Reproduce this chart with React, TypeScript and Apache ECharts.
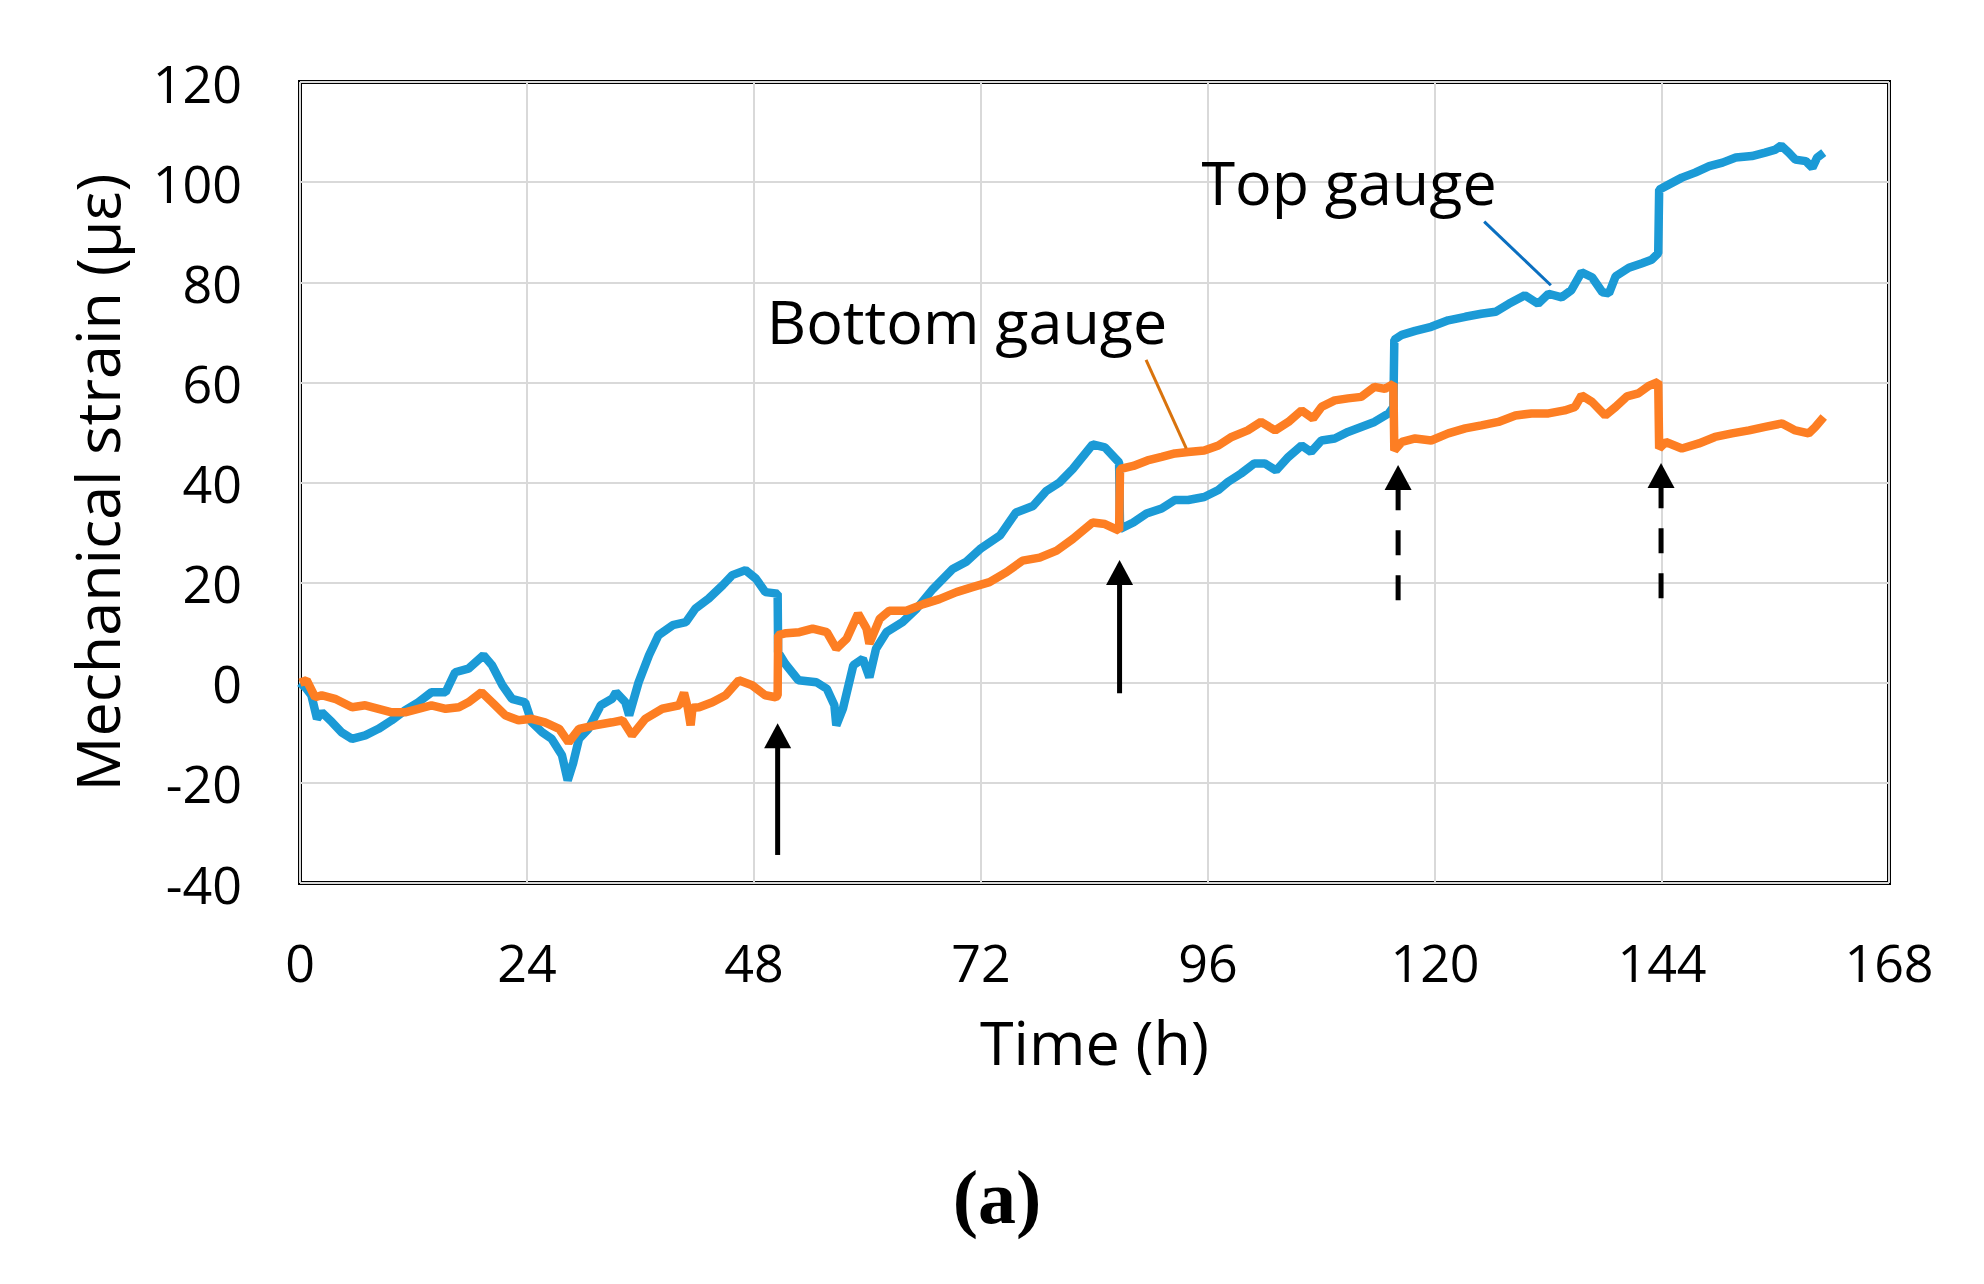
import React, { useEffect, useRef } from "react";
import * as echarts from "echarts";

// ---- Data ----
const topTime = [
  0, 0.6, 1.2, 1.8, 2.3, 3.4, 4.4, 5.5, 6.9, 8.3, 9.7, 11.1, 12.5, 13.9, 15.4, 16.4, 17.8, 19.4, 20.3, 21.4,
  22.4, 23.8, 24.5, 25.6, 26.6, 27.7, 28.3, 28.9, 29.5, 30.5, 31.8, 33.0, 33.4, 34.4, 34.8, 35.8, 36.9, 37.9,
  39.4, 40.8, 41.8, 43.2, 44.7, 45.7, 47.1, 48.2, 49.2, 50.5, 50.55, 51.3, 52.7, 54.6, 55.7, 56.5, 56.7, 57.4,
  58.5, 59.5, 60.2, 60.9, 62.0, 63.7, 65.2, 66.9, 69.0, 70.4, 71.9, 74.0, 75.7, 77.5, 78.9, 80.3, 81.7, 83.8,
  85.1, 86.6, 86.7, 88.1, 89.5, 91.1, 92.5, 93.9, 95.6, 97.1, 98.1, 99.5, 100.9, 102.0, 103.2, 104.5, 105.9,
  106.9, 108.0, 109.4, 110.8, 112.2, 113.6, 115.1, 115.6, 115.7, 116.5, 117.9, 119.6, 121.4, 123.2, 124.9,
  126.4, 127.8, 129.5, 130.9, 132.0, 133.4, 134.4, 135.5, 136.6, 137.7, 138.4, 139.1, 140.5, 141.9, 142.9,
  143.6, 143.7, 144.7, 146.1, 147.5, 149.0, 150.4, 151.8, 153.5, 154.9, 156.0, 156.6, 157.4, 158.1, 159.2,
  159.9, 160.4, 161.1,
];
const topStrain = [
  0, -1, -2.5, -7.2, -5.9, -7.9, -9.9, -11.2, -10.5, -9.2, -7.5, -5.5, -3.9, -1.9, -1.9, 2.1, 2.8, 5.5, 3.5, -0.5,
  -3.2, -3.9, -7.9, -9.9, -11.2, -14.5, -19.5, -15.9, -11.2, -9.2, -4.5, -3.2, -1.9, -3.9, -6.5, 0.1, 5.5, 9.5,
  11.5, 12.1, 14.8, 16.8, 19.5, 21.5, 22.5, 20.8, 18.1, 17.8, 6.1, 3.8, 0.5, 0.1, -1.2, -4.5, -8.5, -5.2,
  3.5, 4.8, 1.1, 6.8, 10.1, 12.1, 14.8, 18.7, 22.7, 24.1, 26.7, 29.4, 34.0, 35.3, 38.3, 40.0, 42.7, 47.6,
  47.0, 44.0, 30.7, 32.0, 33.8, 34.8, 36.5, 36.5, 37.1, 38.5, 40.1, 41.8, 43.8, 43.8, 42.4, 45.1, 47.4,
  46.1, 48.4, 48.8, 50.1, 51.1, 52.1, 53.8, 55.1, 68.5, 69.5, 70.3, 71.1, 72.4, 73.1, 73.7,
  74.1, 75.7, 77.4, 75.7, 77.7, 77.0, 78.4, 82.0, 81.0, 78.0, 77.8, 81.2, 82.9, 83.8, 84.5,
  85.8, 98.5, 99.5, 100.9, 101.9, 103.2, 103.9, 104.9, 105.2, 105.9, 106.5, 107.3, 105.9, 104.5, 104.2,
  102.9, 104.9, 105.9,
];

const bottomTime = [
  0, 0.7, 1.6, 2.3, 3.7, 5.5, 6.9, 8.3, 9.7, 11.1, 12.5, 13.9, 15.4, 16.8, 17.8, 19.2, 20.3, 21.7, 23.1, 24.5,
  25.9, 27.4, 28.4, 29.5, 31.2, 33.0, 34.1, 35.1, 36.5, 38.3, 40.1, 40.6, 41.0, 41.3, 41.5, 42.2, 43.6, 45.0,
  46.4, 47.8, 49.2, 50.3, 50.5, 50.55, 51.4, 52.8, 54.2, 55.7, 56.7, 57.8, 59.0, 59.9, 60.2, 61.3, 62.3, 64.1,
  65.9, 67.6, 69.4, 71.1, 72.9, 74.7, 76.4, 78.2, 80.0, 81.7, 83.8, 85.1, 86.6, 86.7, 88.1, 89.6, 91.1, 92.5,
  93.9, 95.6, 97.1, 98.5, 100.2, 101.6, 103.1, 104.5, 105.9, 107.1, 108.0, 109.4, 110.8, 112.2, 113.6, 114.7,
  115.6, 115.7, 116.5, 117.9, 119.6, 121.4, 123.2, 124.9, 126.7, 128.5, 130.2, 132.0, 133.7, 134.8, 135.5,
  136.6, 138.0, 139.1, 140.3, 141.5, 142.6, 143.6, 143.7, 144.4, 146.1, 147.9, 149.6, 151.4, 153.2, 154.9,
  156.7, 158.1, 159.5, 160.2, 161.1,
];
const bottomStrain = [
  0, 0.5, -2.9, -2.5, -3.2, -4.9, -4.5, -5.2, -5.9, -5.9, -5.2, -4.5, -5.2, -4.9, -3.9, -1.9, -3.9, -6.5, -7.5, -7.2,
  -7.9, -9.2, -11.9, -9.2, -8.5, -7.9, -7.5, -10.5, -7.2, -5.2, -4.5, -2, -5, -8.5, -5, -4.9, -3.9, -2.5,
  0.5, -0.5, -2.5, -2.9, -2.5, 9.5, 9.9, 10.1, 10.8, 10.1, 6.8, 8.8, 13.8, 10.8, 7.8, 12.8, 14.4, 14.4,
  15.7, 16.7, 18.1, 19.1, 20.1, 22.1, 24.4, 25.0, 26.4, 28.7, 32.0, 31.7, 30.4, 42.7, 43.3, 44.4, 45.1, 45.8,
  46.1, 46.4, 47.4, 49.1, 50.4, 52.1, 50.4, 52.1, 54.4, 52.8, 55.1, 56.4, 56.8, 57.1, 59.1, 58.7,
  59.7, 46.4, 48.1, 48.8, 48.4, 49.8, 50.8, 51.4, 52.1, 53.4, 53.8, 53.8, 54.4, 55.1, 57.4,
  56.1, 53.4, 55.1, 57.2, 57.8, 59.3, 60.1, 46.8, 48.1, 46.8, 47.8, 49.1, 49.8, 50.4, 51.1,
  51.8, 50.4, 49.8, 51.1, 53.1,
];

// Arrows (time, tip strain, tail strain, dashed)
const arrowTimes = [50.5, 86.65, 116.1, 143.9];
const arrowTipStrain = [-8.1, 24.5, 43.5, 43.9];
const arrowTailStrain = [-34.4, -2.1, 16.5, 16.9];
const arrowDashed = [false, false, true, true];

// Annotation labels: [time, strain] of text left/baseline, leader line ends
const labelTexts = ["Top gauge", "Bottom gauge"];
const labelAnchor = [[95.3, 96.6], [49.35, 68.8]];
const leaderFrom = [[125.2, 92.1], [89.45, 64.5]];
const leaderTo = [[132.25, 79.4], [93.7, 46.8]];

const FONT = "'Open Sans', 'Noto Sans', sans-serif";
const BLUE = "#1b9ad6";
const ORANGE = "#fd7e23";
const LEADER_COLORS = ["#0a6fc0", "#d9730d"];

export default function App() {
  const ref = useRef<HTMLDivElement>(null);

  useEffect(() => {
    if (!ref.current) return;
    const chart = echarts.init(ref.current, null, { renderer: "svg" });
    const topData = topTime.map((t, i) => [t, topStrain[i]]);
    const bottomData = bottomTime.map((t, i) => [t, bottomStrain[i]]);

    chart.setOption({
      animation: false,
      backgroundColor: "#ffffff",
      grid: {
        left: 300,
        top: 82,
        width: 1589,
        height: 801,
        show: true,
        borderColor: "#000",
        borderWidth: 4,
        backgroundColor: "transparent",
      },
      xAxis: {
        type: "value",
        min: 0,
        max: 168,
        interval: 24,
        name: "Time (h)",
        nameLocation: "middle",
        nameGap: 128,
        nameTextStyle: { fontFamily: FONT, fontSize: 61, color: "#000" },
        axisLine: { show: false },
        axisTick: { show: false },
        axisLabel: { fontFamily: FONT, fontSize: 52, color: "#000", margin: 52 },
        splitLine: { show: true, lineStyle: { color: "#d9d9d9", width: 2 } },
      },
      yAxis: {
        type: "value",
        min: -40,
        max: 120,
        interval: 20,
        name: "Mechanical strain (με)",
        nameLocation: "middle",
        nameGap: 173,
        nameRotate: 90,
        nameTextStyle: { fontFamily: FONT, fontSize: 61, color: "#000" },
        axisLine: { show: false },
        axisTick: { show: false },
        axisLabel: { fontFamily: FONT, fontSize: 52, color: "#000", margin: 58 },
        splitLine: { show: true, lineStyle: { color: "#d9d9d9", width: 2 } },
      },
      series: [
        {
          name: "Top gauge",
          type: "line",
          data: topData,
          showSymbol: false,
          lineStyle: { color: BLUE, width: 8.5 },
          itemStyle: { color: BLUE },
          z: 2,
        },
        {
          name: "Bottom gauge",
          type: "line",
          data: bottomData,
          showSymbol: false,
          lineStyle: { color: ORANGE, width: 8.5 },
          itemStyle: { color: ORANGE },
          z: 3,
        },
      ],
    });

    const px = (p: number[]) => chart.convertToPixel({ gridIndex: 0 }, p) as number[];
    const graphics: any[] = [];

    arrowTimes.forEach((t, i) => {
      const tip = px([t, arrowTipStrain[i]]);
      const tail = px([t, arrowTailStrain[i]]);
      const headH = 25;
      const headW = 27;
      graphics.push({
        type: "line",
        shape: { x1: tail[0], y1: tail[1], x2: tip[0], y2: tip[1] + headH - 2 },
        style: {
          stroke: "#000",
          lineWidth: 5,
          lineDash: arrowDashed[i] ? [25, 20] : null,
        },
        z: 10,
      });
      graphics.push({
        type: "polygon",
        shape: {
          points: [
            [tip[0], tip[1]],
            [tip[0] - headW / 2, tip[1] + headH],
            [tip[0] + headW / 2, tip[1] + headH],
          ],
        },
        style: { fill: "#000" },
        z: 10,
      });
    });

    labelTexts.forEach((txt, i) => {
      const a = px(labelAnchor[i]);
      graphics.push({
        type: "text",
        x: a[0],
        y: a[1] - 18,
        style: {
          text: txt,
          font: `61px ${FONT}`,
          fill: "#000",
          align: "left",
          verticalAlign: "middle",
        },
        z: 11,
      });
      const f = px(leaderFrom[i]);
      const to = px(leaderTo[i]);
      graphics.push({
        type: "line",
        shape: { x1: f[0], y1: f[1], x2: to[0], y2: to[1] },
        style: { stroke: LEADER_COLORS[i], lineWidth: 3 },
        z: 11,
      });
    });

    graphics.push({
      type: "text",
      x: 997,
      y: 1197,
      style: {
        text: "(a)",
        font: "bold 76px 'Liberation Serif', 'Times New Roman', serif",
        fill: "#000",
        align: "center",
        verticalAlign: "middle",
      },
    });

    chart.setOption({ graphic: graphics });

    return () => chart.dispose();
  }, []);

  return (
    <div
      ref={ref}
      style={{ position: "absolute", left: 0, top: 0, width: 1984, height: 1284, background: "#fff" }}
    />
  );
}
